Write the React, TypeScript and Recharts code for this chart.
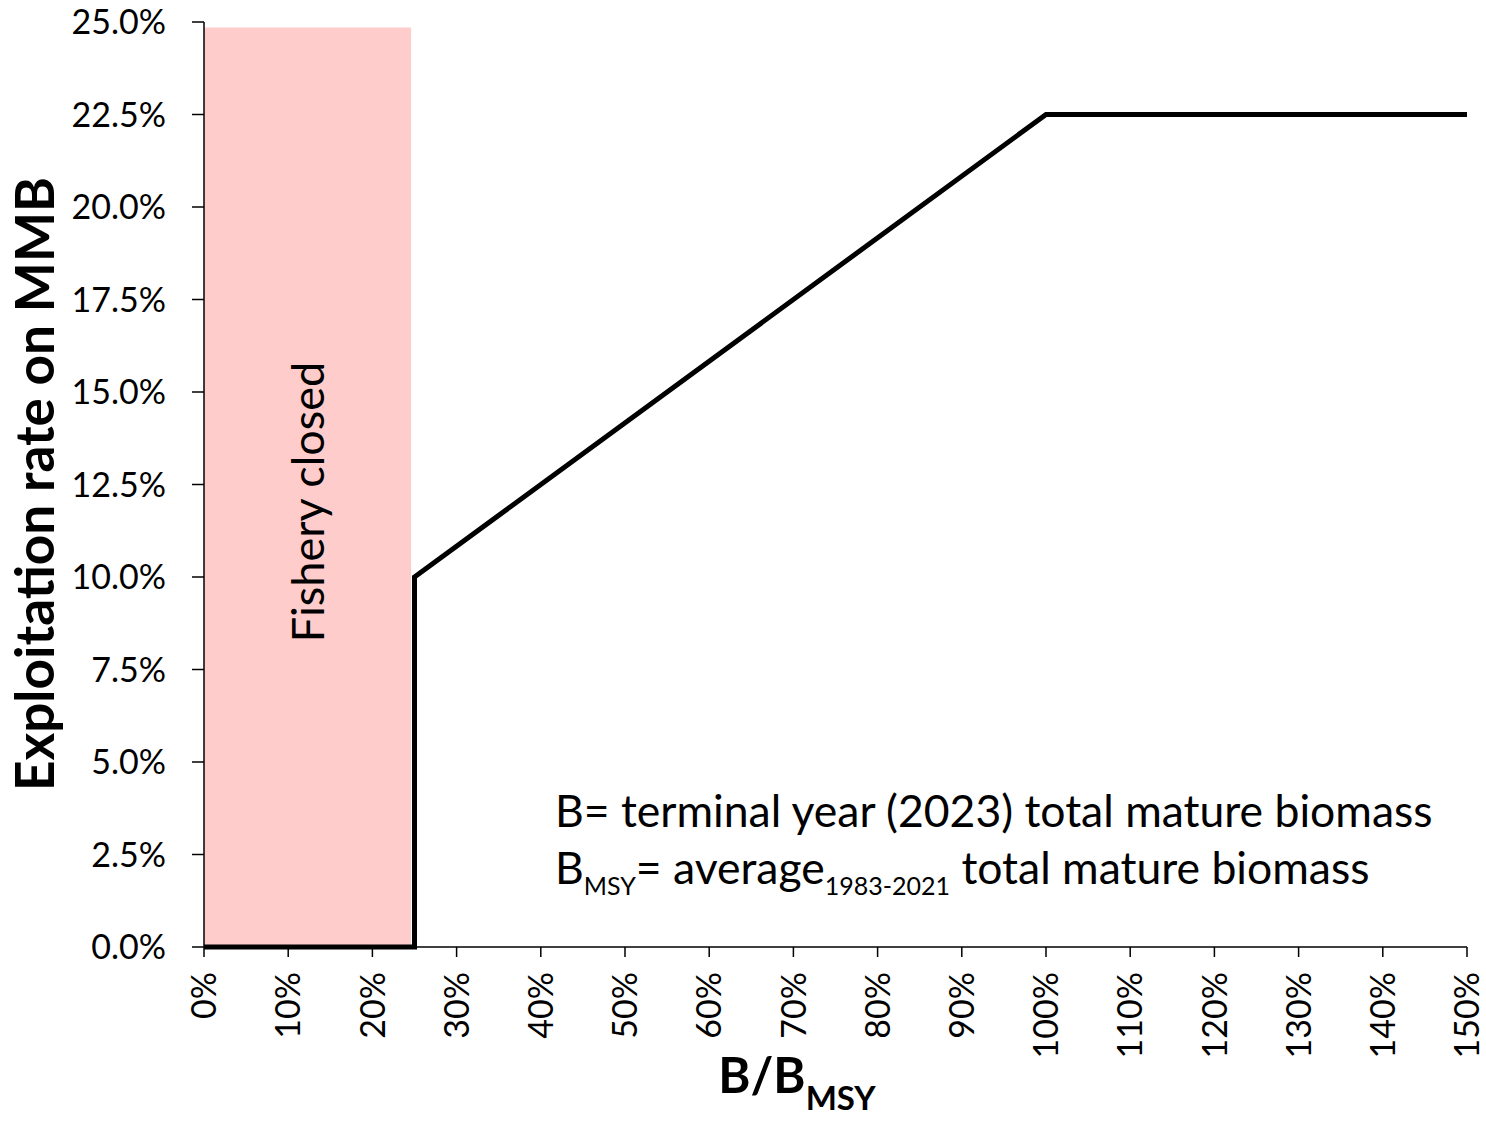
import { Label, Line, LineChart, ReferenceArea, XAxis, YAxis } from "recharts";

// Harvest control rule: closed below 25% of BMSY, then a ramp to the cap at BMSY.
const bRatio = [0, 25, 25, 100, 150];
const exploitation = [0, 0, 0.1, 0.225, 0.225];

const xTicks = [0, 10, 20, 30, 40, 50, 60, 70, 80, 90, 100, 110, 120, 130, 140, 150];
const yTicks = [0, 0.025, 0.05, 0.075, 0.1, 0.125, 0.15, 0.175, 0.2, 0.225, 0.25];

const closedFrom = 0;
const closedTo = 24.6;
const closedTop = 0.2485;

const FONT = "Lato, 'Open Sans', sans-serif";

const rows = bRatio.map((b, i) => ({ b, rate: exploitation[i] }));

function XTick({ x, y, payload }: any) {
  const ty = y + 13;
  return (
    <text
      x={x}
      y={ty}
      dy="0.36em"
      transform={`rotate(-90, ${x}, ${ty})`}
      textAnchor="end"
      fontSize={34}
      fontFamily={FONT}
      fill="#000"
    >
      {payload.value}%
    </text>
  );
}

function YTick({ x, y, payload }: any) {
  return (
    <text x={x - 24} y={y} dy="0.36em" textAnchor="end" fontSize={34} fontFamily={FONT} fill="#000">
      {(payload.value * 100).toFixed(1)}%
    </text>
  );
}

export default function App() {
  return (
    <div style={{ position: "absolute", left: 0, top: 0, width: 1486, height: 1121, background: "#fff" }}>
      <LineChart width={1486} height={1121} data={rows} margin={{ top: 22, right: 19, left: 0, bottom: 0 }}>
        <ReferenceArea
          x1={closedFrom}
          x2={closedTo}
          y1={0}
          y2={closedTop}
          fill="#ffcccc"
          fillOpacity={1}
          stroke="none"
          label={(props: any) => {
            const vb = props.viewBox;
            const cx = vb.x + vb.width / 2;
            const cy = 502;
            return (
              <text
                x={cx}
                y={cy}
                dy="0.36em"
                transform={`rotate(-90, ${cx}, ${cy})`}
                textAnchor="middle"
                fontSize={45}
                fontFamily={FONT}
                fill="#000"
              >
                Fishery closed
              </text>
            );
          }}
        />
        <XAxis
          dataKey="b"
          type="number"
          domain={[0, 150]}
          ticks={xTicks}
          interval={0}
          height={174}
          tick={<XTick />}
          tickSize={10}
          axisLine={{ stroke: "#000", strokeWidth: 1.5 }}
          tickLine={{ stroke: "#000", strokeWidth: 1.5 }}
        >
          <Label
            content={() => (
              <text x={797} y={1093} textAnchor="middle" fontFamily={FONT} fontWeight="bold" fontSize={49} fill="#000">
                B/B
                <tspan fontSize={33} dy={17}>
                  MSY
                </tspan>
              </text>
            )}
          />
        </XAxis>
        <YAxis
          type="number"
          domain={[0, 0.25]}
          ticks={yTicks}
          interval={0}
          width={204}
          tick={<YTick />}
          tickSize={12}
          axisLine={{ stroke: "#000", strokeWidth: 1.5 }}
          tickLine={{ stroke: "#000", strokeWidth: 1.5 }}
        >
          <Label
            content={() => (
              <text
                x={35}
                y={484}
                dy="0.36em"
                transform="rotate(-90, 35, 484)"
                textAnchor="middle"
                fontFamily={FONT}
                fontWeight="bold"
                fontSize={53}
                fill="#000"
              >
                Exploitation rate on MMB
              </text>
            )}
          />
        </YAxis>
        <Line
          type="linear"
          dataKey="rate"
          stroke="#000"
          strokeWidth={5}
          dot={false}
          activeDot={false}
          isAnimationActive={false}
        />
      </LineChart>
      <svg
        width={1486}
        height={1121}
        style={{ position: "absolute", left: 0, top: 0, pointerEvents: "none" }}
      >
        <text x={555} y={827} fontFamily={FONT} fontSize={44.5} fill="#000">
          B= terminal year (2023) total mature biomass
        </text>
        <text x={555} y={884} fontFamily={FONT} fontSize={44.5} fill="#000">
          B
          <tspan fontSize={25} dy={11}>
            MSY
          </tspan>
          <tspan dy={-11}>= average</tspan>
          <tspan fontSize={25} dy={11}>
            1983-2021
          </tspan>
          <tspan dy={-11}> total mature biomass</tspan>
        </text>
      </svg>
    </div>
  );
}
